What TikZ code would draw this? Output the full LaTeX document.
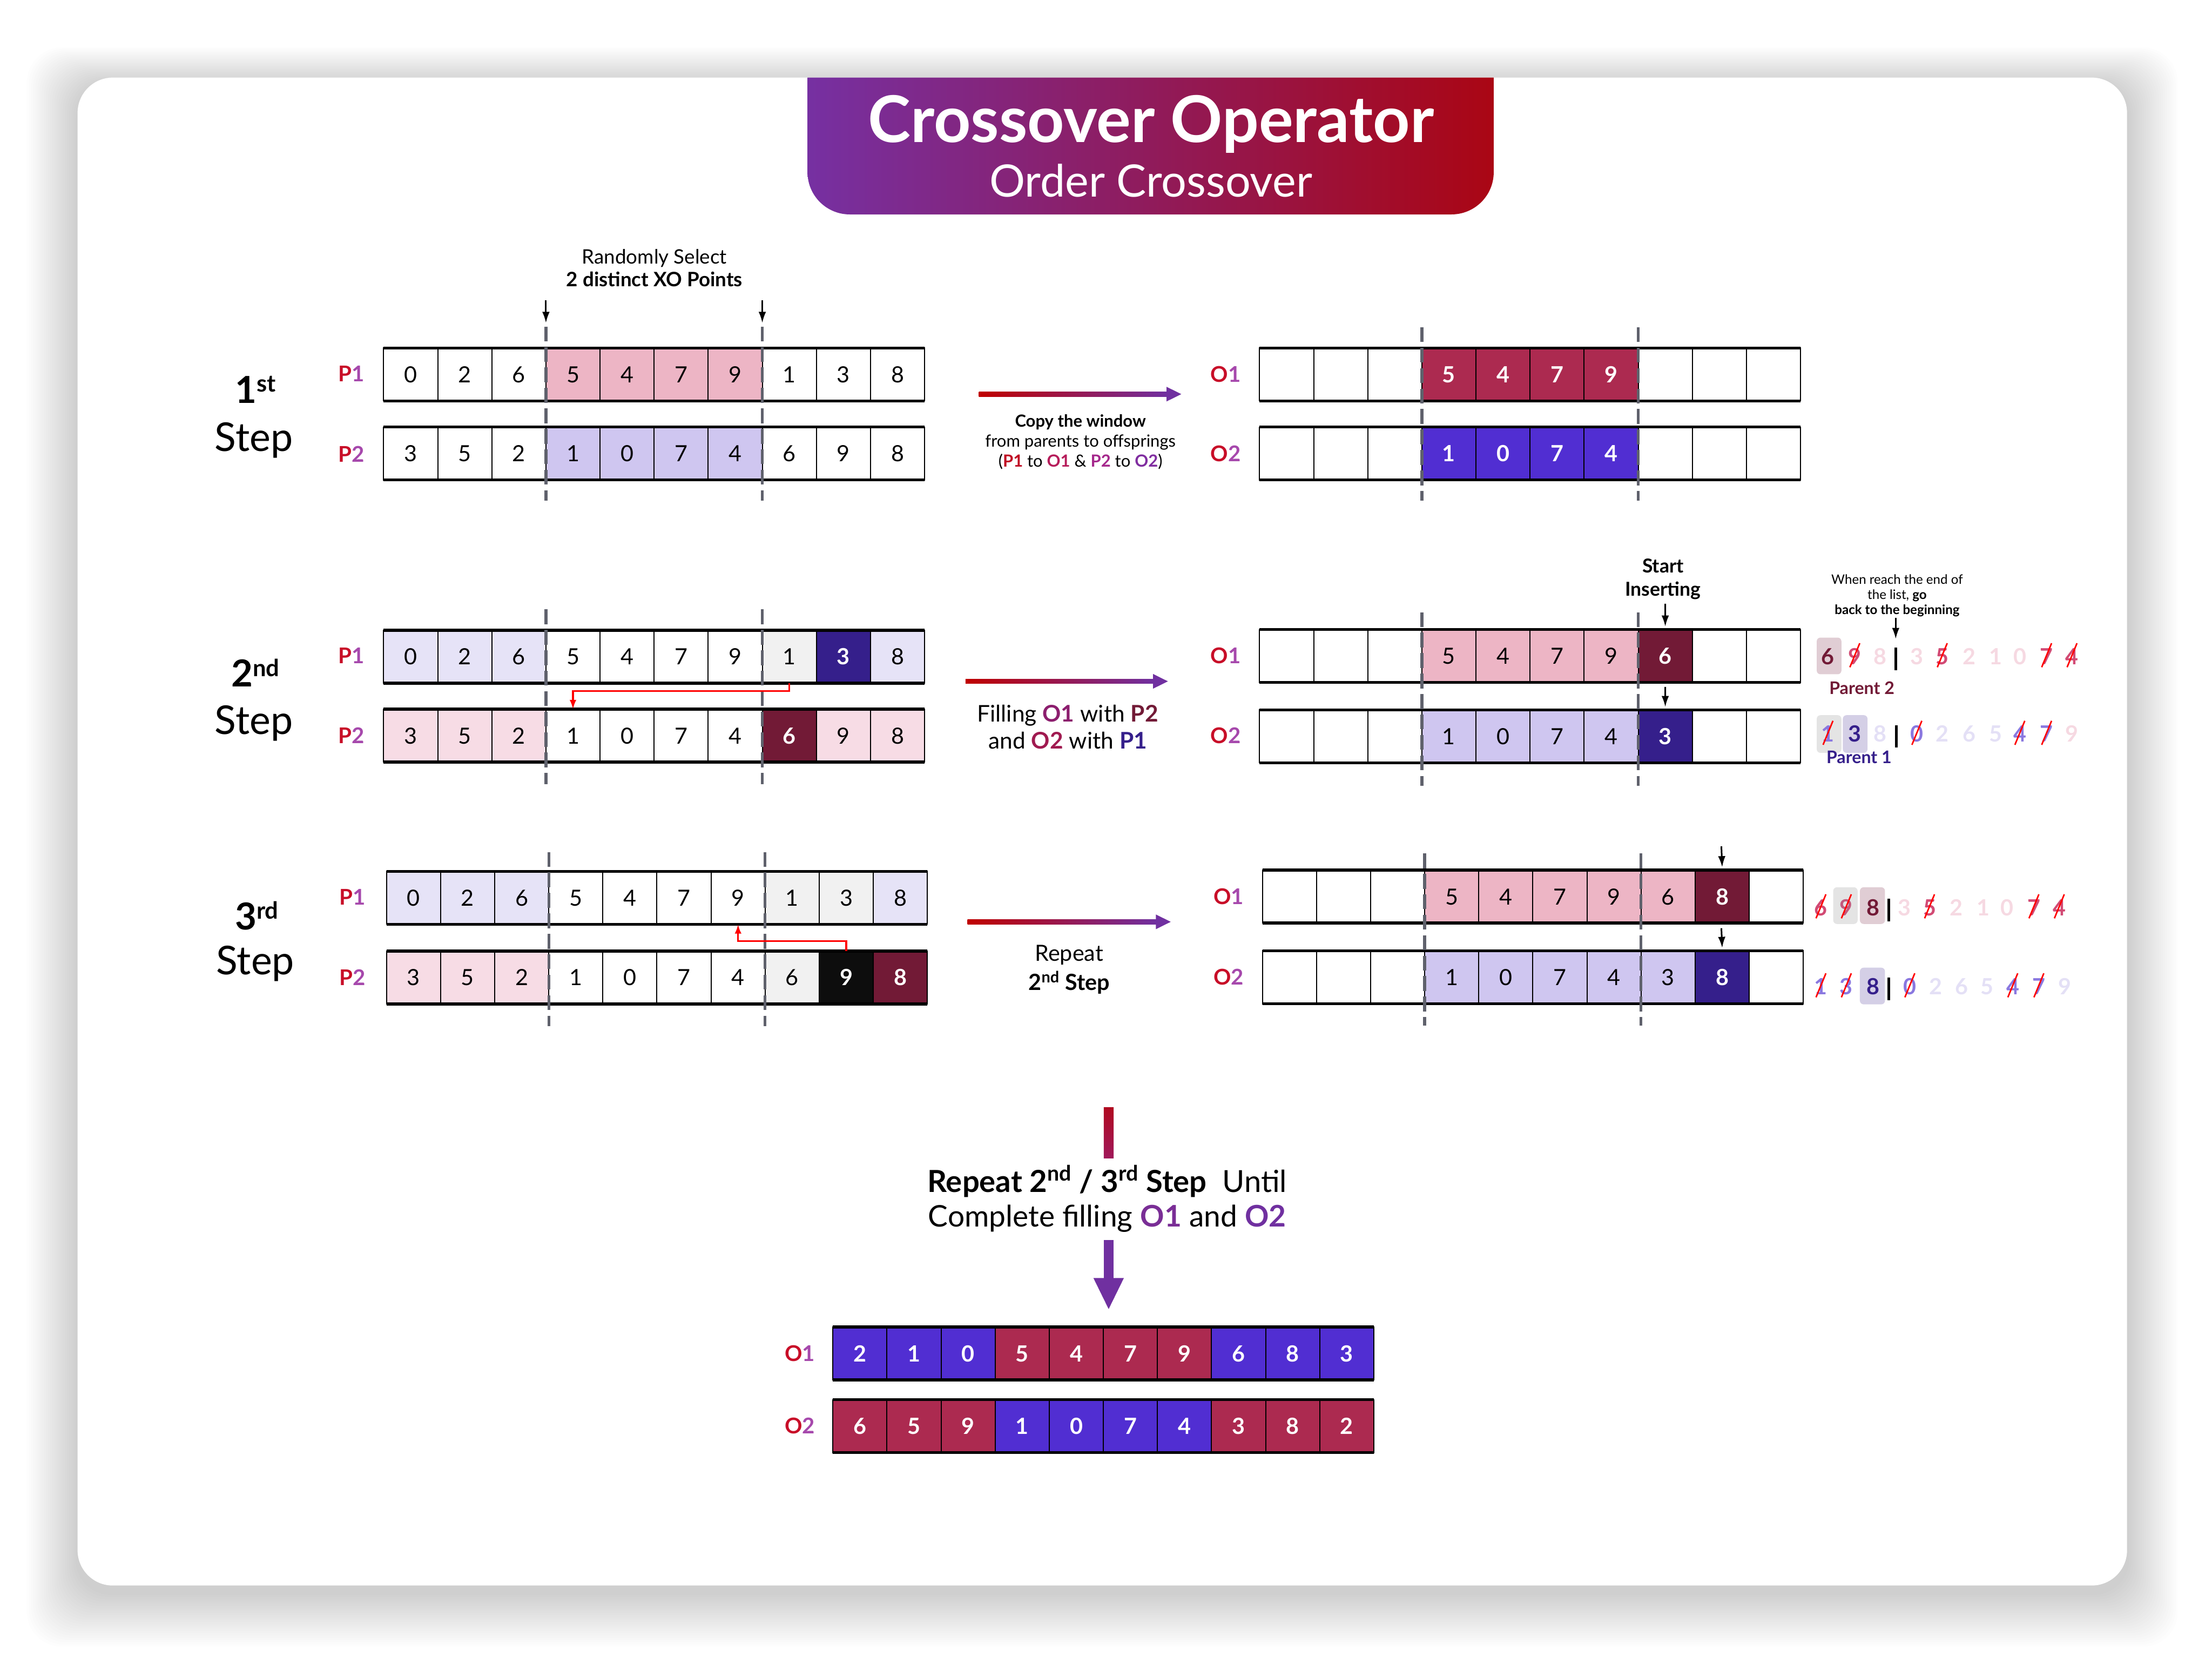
\documentclass[tikz,border=0pt]{standalone}
\usepackage{fontspec}
\setmainfont{Lato}
\usetikzlibrary{arrows.meta,calc}
\definecolor{pinkWin}{RGB}{237,181,197}
\definecolor{lavWin}{RGB}{207,198,240}
\definecolor{lightLav}{RGB}{230,227,247}
\definecolor{lightPink}{RGB}{247,220,229}
\definecolor{lightGray}{RGB}{241,241,241}
\definecolor{maroonC}{RGB}{114,26,54}
\definecolor{indigoC}{RGB}{53,31,139}
\definecolor{crimsonC}{RGB}{172,42,80}
\definecolor{blueF}{RGB}{81,46,210}
\definecolor{nearBlack}{RGB}{13,13,13}
\definecolor{dashGray}{RGB}{95,97,108}
\definecolor{arrRed}{RGB}{192,0,0}
\definecolor{arrPurp}{RGB}{112,48,160}
\definecolor{bnL}{RGB}{118,48,162}
\definecolor{bnR}{RGB}{170,6,20}
\definecolor{labA}{RGB}{200,14,40}
\definecolor{labB}{RGB}{166,72,172}
\definecolor{midPink}{RGB}{210,74,116}
\definecolor{mutedPink}{RGB}{194,90,126}
\definecolor{ltPinkT}{RGB}{246,217,226}
\definecolor{medPurp}{RGB}{138,120,224}
\definecolor{ltLavT}{RGB}{228,224,246}
\definecolor{boxMauve}{RGB}{224,205,212}
\definecolor{boxLav}{RGB}{212,207,230}
\definecolor{boxGray}{RGB}{228,228,228}
\definecolor{cP1}{RGB}{192,12,36}
\definecolor{cO1}{RGB}{182,28,90}
\definecolor{cP2}{RGB}{165,40,140}
\definecolor{cO2}{RGB}{128,45,160}
\definecolor{fO1}{RGB}{140,30,110}
\definecolor{fO2}{RGB}{160,26,80}
\definecolor{rO1}{RGB}{122,46,150}
\definecolor{rO2}{RGB}{112,48,160}
\definecolor{barTop}{RGB}{176,10,32}
\definecolor{barBot}{RGB}{160,24,90}
\newcommand\fsz[1]{\fontsize{#1pt}{#1pt}\selectfont}
\newcommand\lab[2]{\textcolor{labA}{#1}\textcolor{labB}{#2}}
\newcommand\stepnum[3]{{\fsz{30}\bfseries #1}\raisebox{#3}{\fsz{19}\bfseries #2}}
\newcommand\cellrow[4]{%
  \foreach \cval/\cstyle [count=\ci from 0] in {#4}{%
    \node[cell,\cstyle] (#1-\ci) at ({#2+(\ci+0.5)*38.35},#3) {\cval};
  }%
  \draw[rowedge] (#1-0.north west) -- (#1-9.north east);
  \draw[rowedge] (#1-0.south west) -- (#1-9.south east);
}
\newcommand\sq[5]{\node[seqd,text=#5] (#1) at (#2,#3) {#4};}
\newcommand\sqx[5]{\sq{#1}{#2}{#3}{#4}{#5}\draw[slashl] ($(#1.base)+(-3.5,2)$) -- ($(#1.base)+(3.5,-15)$);}
\newcommand\garrow[3]{%
  \shade[left color=arrRed,right color=arrPurp] (#1,#3-1.7) rectangle (#2-10,#3+1.7);
  \fill[arrPurp] (#2-10.5,#3-5.2) -- (#2,#3) -- (#2-10.5,#3+5.2) -- cycle;}
\begin{document}
\begin{tikzpicture}[x=0.04cm,y=-0.04cm,
  cell/.style={draw=black,line width=0.9pt,minimum width=1.534cm,minimum height=1.5cm,inner sep=0pt,outer sep=0pt,font=\fsz{18},text height=13pt,text depth=0pt},
  w/.style={fill=white},
  pk/.style={fill=pinkWin},
  lv/.style={fill=lavWin},
  llv/.style={fill=lightLav},
  lpk/.style={fill=lightPink},
  gy/.style={fill=lightGray},
  mr/.style={fill=maroonC,text=white,font=\fsz{18}\bfseries},
  ig/.style={fill=indigoC,text=white,font=\fsz{18}\bfseries},
  bk/.style={fill=nearBlack,text=white,font=\fsz{18}\bfseries},
  cr/.style={fill=crimsonC,text=white,font=\fsz{18}\bfseries},
  bl/.style={fill=blueF,text=white,font=\fsz{18}\bfseries},
  rowedge/.style={draw=black,line width=2.4pt},
  xoline/.style={draw=dashGray,line width=2.3pt,dash pattern=on 12pt off 4.5pt},
  blk/.style={draw=black,line width=1.3pt,-{Latex[length=9pt,width=6pt]}},
  redarr/.style={draw=red,line width=1.4pt,-{Latex[length=7.5pt,width=5.5pt]}},
  txt/.style={anchor=base,inner sep=0pt,outer sep=0pt},
  seqd/.style={anchor=base,inner sep=0pt,outer sep=0pt,font=\fsz{18}\bfseries},
  slashl/.style={draw=red,line width=1.2pt},
  barl/.style={draw=black,line width=2pt}]
\useasboundingbox (0,0) rectangle (1568.25,1184.5);
\fill[white] (0,0) rectangle (1568.25,1184.5);
% card shadow
\foreach \k in {1,...,24}{
  \fill[black,opacity=0.006,rounded corners=1cm] ({55-1.5*\k},{55-1.1*\k+5}) rectangle ({1508+1.5*\k},{1124+1.6*\k+5});
}
\fill[white,rounded corners=1cm] (55,55) rectangle (1508,1124);
% banner
\shade[left color=bnL,right color=bnR] (572.5,55) -- (1059,55) -- (1059,122)
  .. controls (1059,138.6) and (1045.6,152) .. (1029,152) -- (602.5,152)
  .. controls (585.9,152) and (572.5,138.6) .. (572.5,122) -- cycle;
\node[txt,font=\fsz{52}\bfseries,text=white] (title) at (816,100.8) {Crossover Operator};
\node[txt,font=\fsz{36},text=white] (subtitle) at (816,139.5) {Order Crossover};

% ---------- step 1
\node[txt] (n1) at (181,286) {\stepnum{1}{st}{9.5pt}};
\node[txt,font=\fsz{32}] (s1) at (180,320) {Step};
\node[txt,font=\fsz{16}] (rs1) at (464,187) {Randomly Select};
\node[txt,font=\fsz{16}\bfseries] (rs2) at (464,203.3) {2 distinct XO Points};
\node[txt,font=\fsz{17.5}\bfseries] (la1) at (249,270.6) {\lab{P}{1}};
\node[txt,font=\fsz{17.5}\bfseries] (la2) at (249,327.5) {\lab{P}{2}};
\cellrow{a1}{272}{265.5}{0/w,2/w,6/w,5/pk,4/pk,7/pk,9/pk,1/w,3/w,8/w}
\cellrow{a2}{272}{321.5}{3/w,5/w,2/w,1/lv,0/lv,7/lv,4/lv,6/w,9/w,8/w}
\foreach \xx in {387.05,540.45} \draw[xoline] (\xx,231.5) -- (\xx,355);
\draw[blk] (387.05,213) -- (387.05,229);
\draw[blk] (540.45,213) -- (540.45,229);
\garrow{694}{837.5}{279.4}
\node[txt,font=\fsz{13.5}\bfseries] (cw1) at (766,302.5) {Copy the window};
\node[txt,font=\fsz{13.5}] (cw2) at (766,317) {from parents to offsprings};
\node[txt,font=\fsz{13.5}] (cw3) at (766,331) {(\textbf{\textcolor{cP1}{P1}} to \textbf{\textcolor{cO1}{O1}} \& \textbf{\textcolor{cP2}{P2}} to \textbf{\textcolor{cO2}{O2}})};
\node[txt,font=\fsz{17.5}\bfseries] (lb1) at (869,270.8) {\lab{O}{1}};
\node[txt,font=\fsz{17.5}\bfseries] (lb2) at (869,327) {\lab{O}{2}};
\cellrow{b1}{893}{265.5}{ /w, /w, /w,5/cr,4/cr,7/cr,9/cr, /w, /w, /w}
\cellrow{b2}{893}{321.5}{ /w, /w, /w,1/bl,0/bl,7/bl,4/bl, /w, /w, /w}
\foreach \xx in {1008.05,1161.45} \draw[xoline] (\xx,232) -- (\xx,355);

% ---------- step 2
\node[txt] (n2) at (181,487) {\stepnum{2}{nd}{8.5pt}};
\node[txt,font=\fsz{32}] (s2) at (180,520.4) {Step};
\node[txt,font=\fsz{17.5}\bfseries] (lc1) at (249,470.5) {\lab{P}{1}};
\node[txt,font=\fsz{17.5}\bfseries] (lc2) at (249,527) {\lab{P}{2}};
\cellrow{c1}{272}{465.5}{0/llv,2/llv,6/llv,5/w,4/w,7/w,9/w,1/gy,3/ig,8/llv}
\cellrow{c2}{272}{521.5}{3/lpk,5/lpk,2/lpk,1/w,0/w,7/w,4/w,6/mr,9/lpk,8/lpk}
\foreach \xx in {387.05,540.45} \draw[xoline] (\xx,432) -- (\xx,556);
\draw[redarr] (c1-7.south) -- ++(0,5.5) -| (c2-3.north);
\garrow{684.5}{828}{483}
\node[txt,font=\fsz{18.5}] (fl1) at (757,511.6) {Filling \textbf{\textcolor{fO1}{O1}} with \textbf{\textcolor{maroonC}{P2}}};
\node[txt,font=\fsz{18.5}] (fl2) at (757,531) {and \textbf{\textcolor{fO2}{O2}} with \textbf{\textcolor{indigoC}{P1}}};
\node[txt,font=\fsz{17.5}\bfseries] (ld1) at (869,470.5) {\lab{O}{1}};
\node[txt,font=\fsz{17.5}\bfseries] (ld2) at (869,527) {\lab{O}{2}};
\cellrow{d1}{893}{465}{ /w, /w, /w,5/pk,4/pk,7/pk,9/pk,6/mr, /w, /w}
\cellrow{d2}{893}{522}{ /w, /w, /w,1/lv,0/lv,7/lv,4/lv,3/ig, /w, /w}
\foreach \xx in {1008.05,1161.45} \draw[xoline] (\xx,434) -- (\xx,557);
\node[txt,font=\fsz{15.5}\bfseries] (si1) at (1179,406) {Start};
\node[txt,font=\fsz{15.5}\bfseries] (si2) at (1179,422.4) {Inserting};
\draw[blk] (1180.6,428) -- ($(d1-7.north)+(0,-2)$);
\draw[blk] (1180.6,487) -- ($(d2-7.north)+(0,-2)$);
% annotation step 2
\node[txt,font=\fsz{10.5}] (wr1) at (1345,414) {When reach the end of};
\node[txt,font=\fsz{10.5}] (wr2) at (1345,424.7) {the list, \textbf{go}};
\node[txt,font=\fsz{10.5}\bfseries] (wr3) at (1345,435.4) {back to the beginning};
\draw[blk] (1344,438) -- (1344,453);
\fill[boxMauve,rounded corners=3pt] (1288,452) rectangle (1305.5,478);
\sq{qa1}{1296}{471}{6}{maroonC}
\sqx{qa2}{1315}{471}{9}{midPink}
\sq{qa3}{1333}{471}{8}{ltPinkT}
\draw[barl] (1344,459) -- (1344,475);
\sq{qa4}{1359}{471}{3}{ltPinkT}
\sqx{qa5}{1377}{471}{5}{midPink}
\sq{qa6}{1396}{471}{2}{ltPinkT}
\sq{qa7}{1415}{471}{1}{ltPinkT}
\sq{qa8}{1432}{471}{0}{ltPinkT}
\sqx{qa9}{1451}{471}{7}{midPink}
\sqx{qa10}{1469}{471}{4}{midPink}
\node[txt,font=\fsz{14}\bfseries,text=maroonC] (pa2) at (1320,492) {Parent 2};
\fill[boxGray,rounded corners=3pt] (1288,507) rectangle (1305.5,533.7);
\fill[boxLav,rounded corners=3pt] (1306.5,507) rectangle (1324,533.7);
\sqx{qb1}{1296}{526}{1}{medPurp}
\sq{qb2}{1315}{526}{3}{indigoC}
\sq{qb3}{1333}{526}{8}{ltLavT}
\draw[barl] (1344.4,514) -- (1344.4,530);
\sqx{qb4}{1359}{526}{0}{medPurp}
\sq{qb5}{1377}{526}{2}{ltLavT}
\sq{qb6}{1396}{526}{6}{ltLavT}
\sq{qb7}{1415}{526}{5}{ltLavT}
\sqx{qb8}{1432}{526}{4}{medPurp}
\sqx{qb9}{1451}{526}{7}{medPurp}
\sq{qb10}{1469}{526}{9}{ltPinkT}
\node[txt,font=\fsz{14}\bfseries,text=indigoC] (pa1) at (1318,541) {Parent 1};

% ---------- step 3
\node[txt] (n3) at (182,659) {\stepnum{3}{rd}{8.5pt}};
\node[txt,font=\fsz{32}] (s3) at (181,691) {Step};
\node[txt,font=\fsz{17.5}\bfseries] (le1) at (250,641.5) {\lab{P}{1}};
\node[txt,font=\fsz{17.5}\bfseries] (le2) at (250,698.5) {\lab{P}{2}};
\cellrow{e1}{274}{636.5}{0/llv,2/llv,6/llv,5/w,4/w,7/w,9/w,1/gy,3/gy,8/llv}
\cellrow{e2}{274}{693}{3/lpk,5/lpk,2/lpk,1/w,0/w,7/w,4/w,6/gy,9/bk,8/mr}
\foreach \xx in {389.05,542.45} \draw[xoline] (\xx,604) -- (\xx,727.5);
\draw[redarr] (e2-8.north) -- ++(0,-7) -| (e1-6.south);
\garrow{686}{830}{653.5}
\node[txt,font=\fsz{18}] (rp1) at (758,681.5) {Repeat};
\node[txt,font=\fsz{18}\bfseries] (rp2) at (758,702) {2\textsuperscript{nd} Step};
\node[txt,font=\fsz{17.5}\bfseries] (lf1) at (871,641) {\lab{O}{1}};
\node[txt,font=\fsz{17.5}\bfseries] (lf2) at (871,698) {\lab{O}{2}};
\cellrow{f1}{895}{635.6}{ /w, /w, /w,5/pk,4/pk,7/pk,9/pk,6/pk,8/mr, /w}
\cellrow{f2}{895}{692.8}{ /w, /w, /w,1/lv,0/lv,7/lv,4/lv,3/lv,8/ig, /w}
\foreach \xx in {1010.05,1163.45} \draw[xoline] (\xx,605) -- (\xx,727);
\draw[blk] (1220.4,600) -- ($(f1-8.north)+(0,-2)$);
\draw[blk] (1220.4,658) -- ($(f2-8.north)+(0,-2)$);
% annotation step 3
\fill[boxGray,rounded corners=3pt] (1299.7,629) rectangle (1317,655);
\fill[boxMauve,rounded corners=3pt] (1318.6,629) rectangle (1336.4,655);
\sqx{qc1}{1291}{649}{6}{midPink}
\sqx{qc2}{1309}{649}{9}{mutedPink}
\sq{qc3}{1328}{649}{8}{maroonC}
\draw[barl] (1339,637) -- (1339,653);
\sq{qc4}{1350}{649}{3}{ltPinkT}
\sqx{qc5}{1368}{649}{5}{midPink}
\sq{qc6}{1387}{649}{2}{ltPinkT}
\sq{qc7}{1406}{649}{1}{ltPinkT}
\sq{qc8}{1423}{649}{0}{ltPinkT}
\sqx{qc9}{1442}{649}{7}{midPink}
\sqx{qc10}{1460}{649}{4}{midPink}
\fill[boxLav,rounded corners=3pt] (1318.6,686) rectangle (1336.4,712);
\sqx{qd1}{1291}{705}{1}{medPurp}
\sqx{qd2}{1309}{705}{3}{medPurp}
\sq{qd3}{1328}{705}{8}{indigoC}
\draw[barl] (1339,693) -- (1339,709);
\sqx{qd4}{1354}{705}{0}{medPurp}
\sq{qd5}{1372.4}{705}{2}{ltLavT}
\sq{qd6}{1390.6}{705}{6}{ltLavT}
\sq{qd7}{1408.7}{705}{5}{ltLavT}
\sqx{qd8}{1427}{705}{4}{medPurp}
\sqx{qd9}{1445.5}{705}{7}{medPurp}
\sq{qd10}{1464}{705}{9}{ltLavT}

% ---------- repeat & final
\shade[top color=barTop,bottom color=barBot] (782.5,785) rectangle (789.5,821);
\node[txt,font=\fsz{24.5}] (ru1) at (785,845) {\textbf{Repeat 2\textsuperscript{nd} / 3\textsuperscript{rd} Step}\ \ Until};
\node[txt,font=\fsz{24}] (ru2) at (785,869.7) {Complete filling \textbf{\textcolor{rO1}{O1}} and \textbf{\textcolor{rO2}{O2}}};
\fill[rO2] (782.5,879) rectangle (789.5,906.5);
\fill[rO2] (775.2,906) -- (796.8,906) -- (786,928) -- cycle;
\node[txt,font=\fsz{17.5}\bfseries] (lg1) at (567,965) {\lab{O}{1}};
\node[txt,font=\fsz{17.5}\bfseries] (lg2) at (567,1016.5) {\lab{O}{2}};
\cellrow{g1}{590.5}{959.5}{2/bl,1/bl,0/bl,5/cr,4/cr,7/cr,9/cr,6/bl,8/bl,3/bl}
\cellrow{g2}{590.5}{1011}{6/cr,5/cr,9/cr,1/bl,0/bl,7/bl,4/bl,3/cr,8/cr,2/cr}
\end{tikzpicture}
\end{document}
